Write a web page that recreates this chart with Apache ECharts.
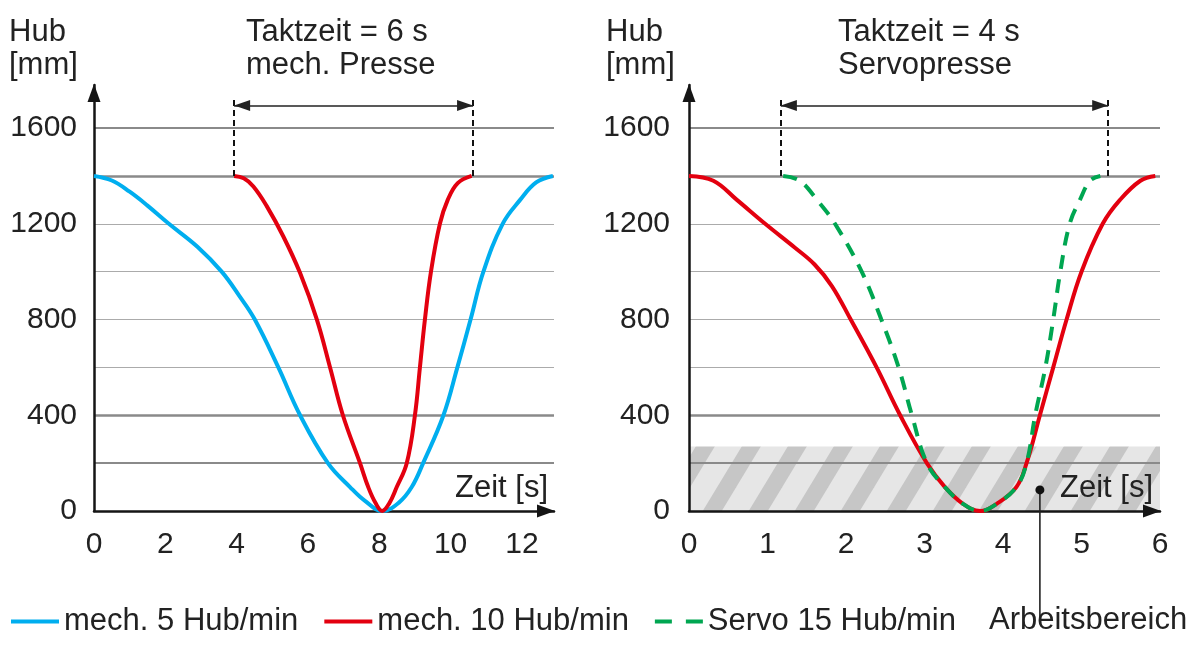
<!DOCTYPE html>
<html><head><meta charset="utf-8">
<script src="https://cdn.jsdelivr.net/npm/echarts@6/dist/echarts.min.js"></script>
<style>html,body{margin:0;padding:0;background:#fff}#c{width:1200px;height:646px}</style>
</head><body><div id="c"></div>
<script>
const FONT = '"Liberation Sans", Arial, Helvetica, sans-serif';

// ---- tick labels ----
const yTickLabels = [0, 400, 800, 1200, 1600];
const leftXTickLabels = [0, 2, 4, 6, 8, 10, 12];
const rightXTickLabels = [0, 1, 2, 3, 4, 5, 6];
const heavyGridLines = [1600, 1400, 400, 200];

// ---- series: [Zeit s, Hub mm] ----
const mech5Left = [[0,1400],[0.5,1381],[1.0,1334],[1.5,1276],[2.1,1200],[2.9,1104],[3.58,1000],[4.07,900],[4.51,800],[5.17,600],[5.78,400],[6.56,200],[7.18,100],[7.6,42],[8.08,0],[8.55,35],[8.91,100],[9.23,200],[9.80,400],[10.19,600],[10.56,800],[10.92,1000],[11.46,1200],[11.95,1300],[12.4,1373],[12.87,1400]];
const mech10Left = [[3.93,1400],[4.2,1390],[4.47,1356],[4.84,1275],[5.31,1147],[5.78,994],[6.25,800],[6.62,600],[6.98,400],[7.46,200],[7.69,100],[7.9,32],[8.08,0],[8.28,32],[8.49,100],[8.77,200],[9.00,400],[9.14,600],[9.28,800],[9.45,1000],[9.70,1200],[9.92,1300],[10.2,1370],[10.59,1400]];
const mech10Right = [[0,1400],[0.31,1380],[0.61,1300],[0.97,1200],[1.35,1100],[1.6,1030],[1.82,940],[2.06,800],[2.39,600],[2.69,400],[3.03,200],[3.26,100],[3.49,30],[3.71,0],[3.92,30],[4.17,100],[4.30,200],[4.47,400],[4.64,600],[4.81,800],[5.0,1000],[5.27,1200],[5.49,1300],[5.75,1380],[5.94,1400]];
const servo15Right = [[1.20,1400],[1.41,1380],[1.63,1300],[1.86,1200],[2.2,1000],[2.45,800],[2.67,600],[2.84,400],[3.03,200],[3.26,100],[3.49,30],[3.71,0],[3.92,30],[4.17,100],[4.30,200],[4.41,400],[4.54,600],[4.64,800],[4.73,1000],[4.85,1200],[4.98,1300],[5.11,1380],[5.24,1400]];

// ---- annotations ----
const taktLeft = [3.93, 10.63];
const taktRight = [1.17, 5.34];
const taktArrowY = 1694;
const taktDashTop = 1721;
const taktDashBottom = 1400;
const arbeitsbereichTop = 270;
const arbeitsbereichPoint = [4.47, 88];

const names = ['mech. 5 Hub/min', 'mech. 10 Hub/min', 'Servo 15 Hub/min'];
const colors = {blue: '#00aeef', red: '#e3000f', green: '#00a651'};

function hatchPattern() {
  const W = 46, H = 76, d = 19;
  const c = document.createElement('canvas'); c.width = W; c.height = H;
  const g = c.getContext('2d');
  g.fillStyle = '#e6e6e6'; g.fillRect(0, 0, W, H);
  g.fillStyle = '#c6c6c6';
  for (let k = -2; k <= 1; k++) {
    const x0 = k * W;
    g.beginPath();
    g.moveTo(x0, H); g.lineTo(x0 + d, H); g.lineTo(x0 + d + W, 0); g.lineTo(x0 + W, 0);
    g.closePath(); g.fill();
  }
  return c;
}

const tickText = {fontSize: 30, color: '#222', fontFamily: FONT};

function yAxisDef(gi, margin) {
  return {
    gridIndex: gi, type: 'value', min: 0, max: 1780, interval: 200, z: 1.5,
    axisLine: {show: true, lineStyle: {color: '#151515', width: 2.5}, symbol: ['none', 'triangle'], symbolSize: [13, 18], symbolOffset: [0, -8]},
    axisTick: {show: false},
    axisLabel: Object.assign({margin: margin, showMaxLabel: false, formatter: v => yTickLabels.includes(v) ? String(v) : ''}, tickText),
    splitLine: {show: true, showMinLine: false, showMaxLine: false, lineStyle: {color: '#ababab', width: 1.2}}
  };
}
function xAxisDef(gi, max, interval, labels) {
  return {
    gridIndex: gi, type: 'value', min: 0, max: max, interval: interval, z: 1.5,
    axisLine: {show: true, onZero: false, lineStyle: {color: '#151515', width: 2.5}, symbol: ['none', 'triangle'], symbolSize: [13, 18], symbolOffset: [0, -8]},
    axisTick: {show: false},
    axisLabel: Object.assign({margin: 19, showMaxLabel: labels.includes(max), formatter: v => labels.includes(v) ? String(v) : ''}, tickText),
    splitLine: {show: false}
  };
}
function gridLinesMark() {
  return {
    silent: true, symbol: 'none', z: 1.5, animation: false, label: {show: false},
    data: heavyGridLines.map(v => ({yAxis: v, lineStyle: {color: '#8a8a8a', type: 'solid', width: (v === 1400 || v === 400) ? 2.6 : 2}}))
  };
}
function taktMark(t) {
  const dash = {color: '#111', width: 2, type: [6, 4]};
  const arr = {color: '#222', width: 1.6, type: 'solid'};
  return {
    silent: true, symbol: 'none', animation: false, label: {show: false},
    data: [
      [{coord: [t[0], taktDashBottom], lineStyle: dash}, {coord: [t[0], taktDashTop]}],
      [{coord: [t[1], taktDashBottom], lineStyle: dash}, {coord: [t[1], taktDashTop]}],
      [{coord: [t[0], taktArrowY], symbol: 'triangle', symbolSize: [11, 16], symbolOffset: [0, 8], lineStyle: arr},
       {coord: [t[1], taktArrowY], symbol: 'triangle', symbolSize: [11, 16], symbolOffset: [0, 8]}]
    ]
  };
}
function curve(name, xi, data, color, dashed, extra) {
  return Object.assign({
    name: name, type: 'line', xAxisIndex: xi, yAxisIndex: xi, data: data,
    symbol: 'none', showSymbol: false, smooth: 0.4, z: 2, clip: false,
    lineStyle: {color: color, width: 4, type: dashed ? [14, 10] : 'solid', cap: 'butt'},
    itemStyle: {color: color}, animation: false
  }, extra || {});
}

const chart = echarts.init(document.getElementById('c'), null, {renderer: 'canvas'});
const titleStyle = {fontSize: 31, fontWeight: 'normal', color: '#222', fontFamily: FONT, lineHeight: 33};
const oneLine = Object.assign({}, titleStyle, {lineHeight: 30});
chart.setOption({
  backgroundColor: '#fff',
  animation: false,
  textStyle: {fontFamily: FONT},
  title: [
    {text: 'Hub\n[mm]', left: 9, top: 16, padding: 0, textStyle: titleStyle},
    {text: 'Taktzeit = 6 s\nmech. Presse', left: 246, top: 16, padding: 0, textStyle: titleStyle},
    {text: 'Hub\n[mm]', left: 606, top: 16, padding: 0, textStyle: titleStyle},
    {text: 'Taktzeit = 4 s\nServopresse', left: 838, top: 16, padding: 0, textStyle: titleStyle},
    {text: 'Zeit [s]', right: 652, top: 473, padding: 0, textStyle: oneLine},
    {text: 'Zeit [s]', right: 47, top: 473, padding: 0, textStyle: oneLine},
    {text: 'Arbeitsbereich', left: 989, top: 605, padding: 0, textStyle: oneLine}
  ],
  legend: {
    left: 11, top: 606, padding: 0, itemWidth: 48, itemHeight: 4, itemGap: 26, selectedMode: false,
    textStyle: {fontSize: 31, color: '#222', fontFamily: FONT},
    data: [
      {name: names[0], icon: 'rect'},
      {name: names[1], icon: 'rect'},
      {name: names[2], icon: 'path://M0,0h17v4h-17zM31,0h17v4h-17z'}
    ]
  },
  grid: [
    {left: 94, top: 85, width: 460, height: 426},
    {left: 689, top: 85, width: 471, height: 426}
  ],
  xAxis: [xAxisDef(0, 12.9, 2, leftXTickLabels), xAxisDef(1, 6, 1, rightXTickLabels)],
  yAxis: [yAxisDef(0, 17), yAxisDef(1, 19)],
  series: [
    curve(names[0], 0, mech5Left, colors.blue, false, {markLine: gridLinesMark()}),
    curve(names[1], 0, mech10Left, colors.red, false, {markLine: taktMark(taktLeft)}),
    curve(names[1], 1, mech10Right, colors.red, false, {markLine: gridLinesMark()}),
    curve(names[2], 1, servo15Right, colors.green, true, {
      markLine: taktMark(taktRight),
      markArea: {silent: true, z: 1, label: {show: false},
        itemStyle: {color: {image: hatchPattern(), repeat: 'repeat'}, opacity: 1, borderWidth: 0},
        data: [[{yAxis: 0}, {yAxis: arbeitsbereichTop}]]}
    })
  ]
});

// leader line for "Arbeitsbereich"
const p = chart.convertToPixel({gridIndex: 1}, arbeitsbereichPoint);
const leaderEndPx = 618;
chart.setOption({
  graphic: [
    {type: 'line', z: 10, shape: {x1: p[0], y1: p[1], x2: p[0], y2: leaderEndPx}, style: {stroke: '#222', lineWidth: 1.6}},
    {type: 'circle', z: 10, shape: {cx: p[0], cy: p[1], r: 4.5}, style: {fill: '#111'}}
  ]
});
</script></body></html>
